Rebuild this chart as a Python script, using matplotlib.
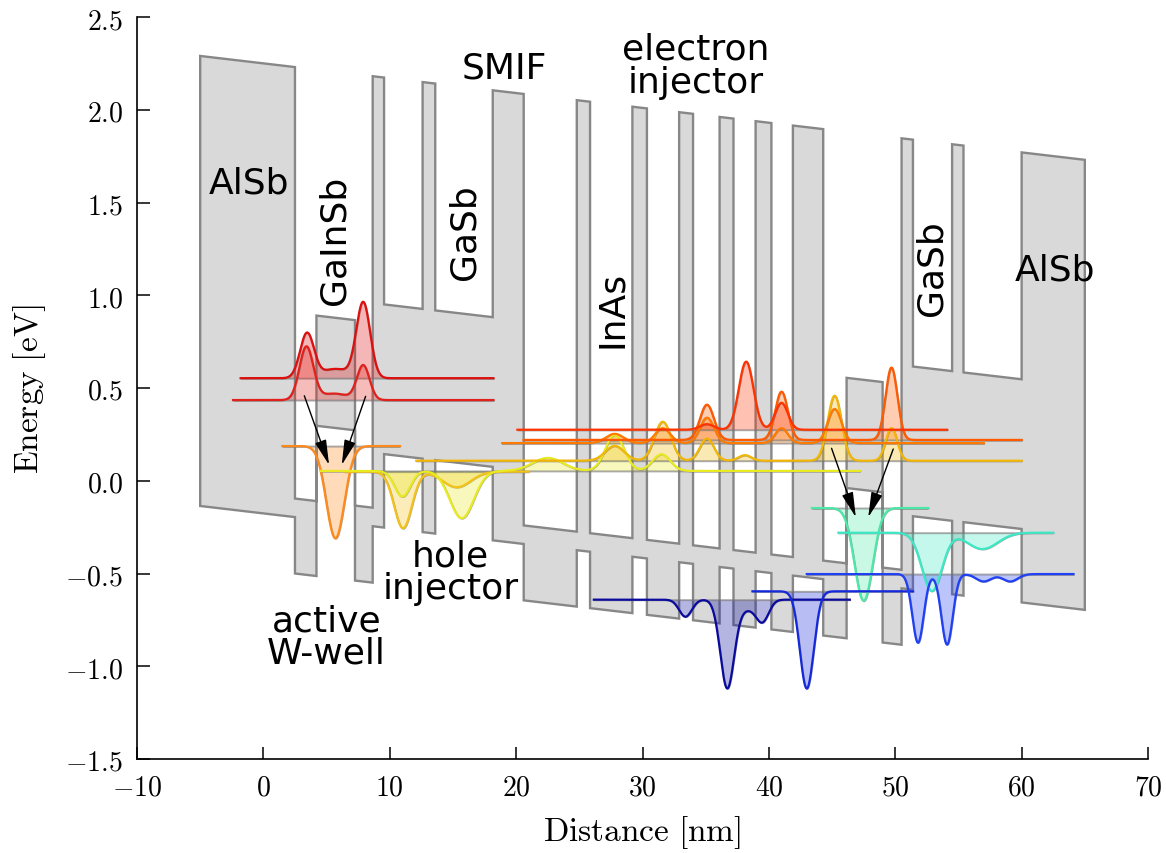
import numpy as np
import matplotlib
matplotlib.use("Agg")
import matplotlib.pyplot as plt
from matplotlib.patches import Polygon, FancyArrowPatch
from matplotlib.ticker import FuncFormatter, MultipleLocator

plt.rcParams["mathtext.fontset"] = "cm"
plt.rcParams["font.family"] = ["DejaVu Sans"]

# ---- layer stack (nm) ----
layer_materials = ["AlSb", "InAs", "GaInSb", "InAs", "AlSb", "GaSb", "AlSb", "GaSb", "AlSb",
                   "InAs", "AlSb", "InAs", "AlSb", "InAs", "AlSb", "InAs", "AlSb", "InAs",
                   "AlSb", "InAs", "AlSb",
                   "InAs", "GaInSb", "InAs", "AlSb", "GaSb", "AlSb", "GaSb", "AlSb"]
layer_edges = [-5.0, 2.5, 4.2, 7.25, 8.65, 9.55, 12.6, 13.6, 18.15, 20.6,
               24.8, 25.85, 29.2, 30.35, 32.9, 34.0, 36.1, 37.2, 38.95, 40.2,
               41.9, 44.3, 46.15, 49.0, 50.5, 51.4, 54.5, 55.4, 60.0, 65.0]

# band edges at x = 0 (eV) and the applied field (eV per nm)
materials = ["AlSb", "InAs", "GaInSb", "GaSb"]
cb_at_zero = [2.25, -0.076, 0.924, 1.027]
vb_at_zero = [-0.176, -0.48, 0.33, 0.22]
field_slope = 0.008

# ---- bound states: level (eV), extent (nm), colour, lobes (centre, height, width) ----
state_energy = [0.553, 0.435, 0.187, 0.049, 0.053, 0.108, 0.203, 0.22, 0.275,
                -0.147, -0.28, -0.641, -0.596, -0.503]
state_xmin = [-1.8, -2.4, 1.5, 6.4, 4.5, 12.1, 18.9, 20.6, 20.1,
              43.4, 45.5, 26.15, 38.7, 43.0]
state_xmax = [18.2, 18.2, 10.8, 21.0, 47.2, 60.0, 57.0, 60.0, 54.1,
              52.6, 62.5, 46.4, 51.4, 64.1]
state_colors = ["#dd0f0f", "#e3211c", "#ff8a1c", "#f3c21a", "#e8ea22", "#f2b705",
                "#ff7b00", "#ff5a00", "#ff3300",
                "#4de8a8", "#3de8c4", "#0a0a9e", "#1428dc", "#1f40f5"]
state_lobes = [
    [(3.45, 0.24, 0.55), (7.9, 0.405, 0.55), (5.7, 0.05, 1.1)],
    [(3.4, 0.285, 0.55), (7.9, 0.185, 0.5), (5.6, 0.035, 1.1)],
    [(5.7, -0.497, 0.72)],
    [(11.05, -0.305, 0.7), (15.3, -0.084, 1.1)],
    [(11.0, -0.138, 0.62), (15.7, -0.255, 0.95), (22.5, 0.07, 1.2),
     (27.8, 0.193, 0.75), (31.5, 0.09, 0.7)],
    [(27.8, 0.08, 0.75), (31.6, 0.21, 0.65), (35.1, 0.12, 0.55), (38.1, 0.03, 0.5),
     (45.2, 0.35, 0.55), (49.7, 0.176, 0.45)],
    [(27.8, 0.05, 0.7), (31.6, 0.08, 0.6), (35.1, 0.137, 0.55), (41.0, 0.08, 0.5),
     (45.2, 0.184, 0.55)],
    [(35.1, 0.19, 0.55), (41.0, 0.26, 0.5), (49.7, 0.39, 0.47)],
    [(35.1, 0.03, 0.55), (38.2, 0.367, 0.58), (41.0, 0.145, 0.5)],
    [(47.5, -0.5, 0.72)],
    [(52.9, -0.314, 0.8), (56.9, -0.088, 1.2)],
    [(33.4, -0.092, 0.5), (36.7, -0.47, 0.55), (38.2, -0.05, 0.8), (39.5, -0.11, 0.5)],
    [(43.0, -0.524, 0.55)],
    [(51.8, -0.37, 0.45), (54.1, -0.38, 0.45), (57.0, -0.04, 0.6), (59.1, -0.04, 0.6)],
]

# optical transitions (tail -> head), nm / eV
arrow_tails = [(3.24, 0.458), (8.09, 0.455), (44.96, 0.175), (49.84, 0.171)]
arrow_heads = [(5.2, 0.085), (6.2, 0.085), (46.88, -0.197), (47.86, -0.197)]

# region labels: text, x, y, rotation
label_texts = ["AlSb", "GaInSb", "GaSb", "SMIF", "electron\ninjector", "InAs",
               "GaSb", "AlSb", "hole\ninjector", "active\nW-well"]
label_x = [-1.14, 5.66, 15.95, 19.1, 34.2, 27.6, 52.9, 62.6, 14.8, 5.0]
label_y = [1.61, 1.30, 1.345, 2.23, 2.24, 0.93, 1.15, 1.14, -0.49, -0.84]
label_rot = [0, 90, 90, 0, 0, 90, 90, 0, 0, 0]

W, H = 1166, 854
fig = plt.figure(figsize=(W / 100, H / 100), dpi=100)
ax = fig.add_axes([137 / W, 1 - 760 / H, (1148 - 137) / W, (760 - 18) / H])

# ---- band profile: filled between valence and conduction band edges ----
cb_pts, vb_pts = [], []
for i, mat in enumerate(layer_materials):
    k = materials.index(mat)
    xa, xb = layer_edges[i], layer_edges[i + 1]
    for xx in (xa, xb):
        cb_pts.append((xx, cb_at_zero[k] - field_slope * xx))
        vb_pts.append((xx, vb_at_zero[k] - field_slope * xx))
outline = cb_pts + vb_pts[::-1]
ax.add_patch(Polygon(outline, closed=True, facecolor="#d9d9d9",
                     edgecolor="#878787", linewidth=1.7, zorder=1))

# ---- wavefunctions ----
for E, x0, x1, col, lobes in zip(state_energy, state_xmin, state_xmax,
                                 state_colors, state_lobes):
    xs = np.linspace(x0, x1, 2000)
    ys = np.full_like(xs, E)
    for c, a, s in lobes:
        ys = ys + a * np.exp(-0.5 * ((xs - c) / s) ** 2)
    ax.fill_between(xs, E, ys, facecolor=matplotlib.colors.to_rgba(col, 0.3),
                    edgecolor=(0.45, 0.45, 0.45, 0.6), linewidth=1.4, zorder=2)
    ax.plot(xs, ys, color=col, linewidth=1.6, zorder=3)

for (xt, yt), (xh, yh) in zip(arrow_tails, arrow_heads):
    ax.add_patch(FancyArrowPatch((xt, yt), (xh, yh),
                                 arrowstyle="-|>,head_length=0.7,head_width=0.16",
                                 mutation_scale=22, color="black", linewidth=1.0,
                                 shrinkA=0, shrinkB=0, zorder=4))

for t, x, y, r in zip(label_texts, label_x, label_y, label_rot):
    ax.text(x, y, t, fontsize=26, rotation=r, ha="center", va="center",
            linespacing=0.95, color="black", zorder=5)

# ---- axes ----
ax.set_xlim(-10, 70)
ax.set_ylim(-1.5, 2.5)
ax.spines["top"].set_visible(False)
ax.spines["right"].set_visible(False)
for sp in ("left", "bottom"):
    ax.spines[sp].set_linewidth(1.2)
ax.xaxis.set_major_locator(MultipleLocator(10))
ax.yaxis.set_major_locator(MultipleLocator(0.5))
ax.xaxis.set_major_formatter(FuncFormatter(lambda v, _: f"${v:.0f}$"))
ax.yaxis.set_major_formatter(FuncFormatter(lambda v, _: f"${v:.1f}$"))
ax.tick_params(direction="in", length=9, width=1.1, labelsize=20,
               top=False, right=False)
ax.tick_params(axis="y", pad=10)
ax.tick_params(axis="x", pad=10)
ax.set_xlabel(r"$\mathrm{Distance\ [nm]}$", fontsize=24, labelpad=9)
ax.set_ylabel(r"$\mathrm{Energy\ [eV]}$", fontsize=24, labelpad=12)

fig.savefig("out.png", dpi=100)
